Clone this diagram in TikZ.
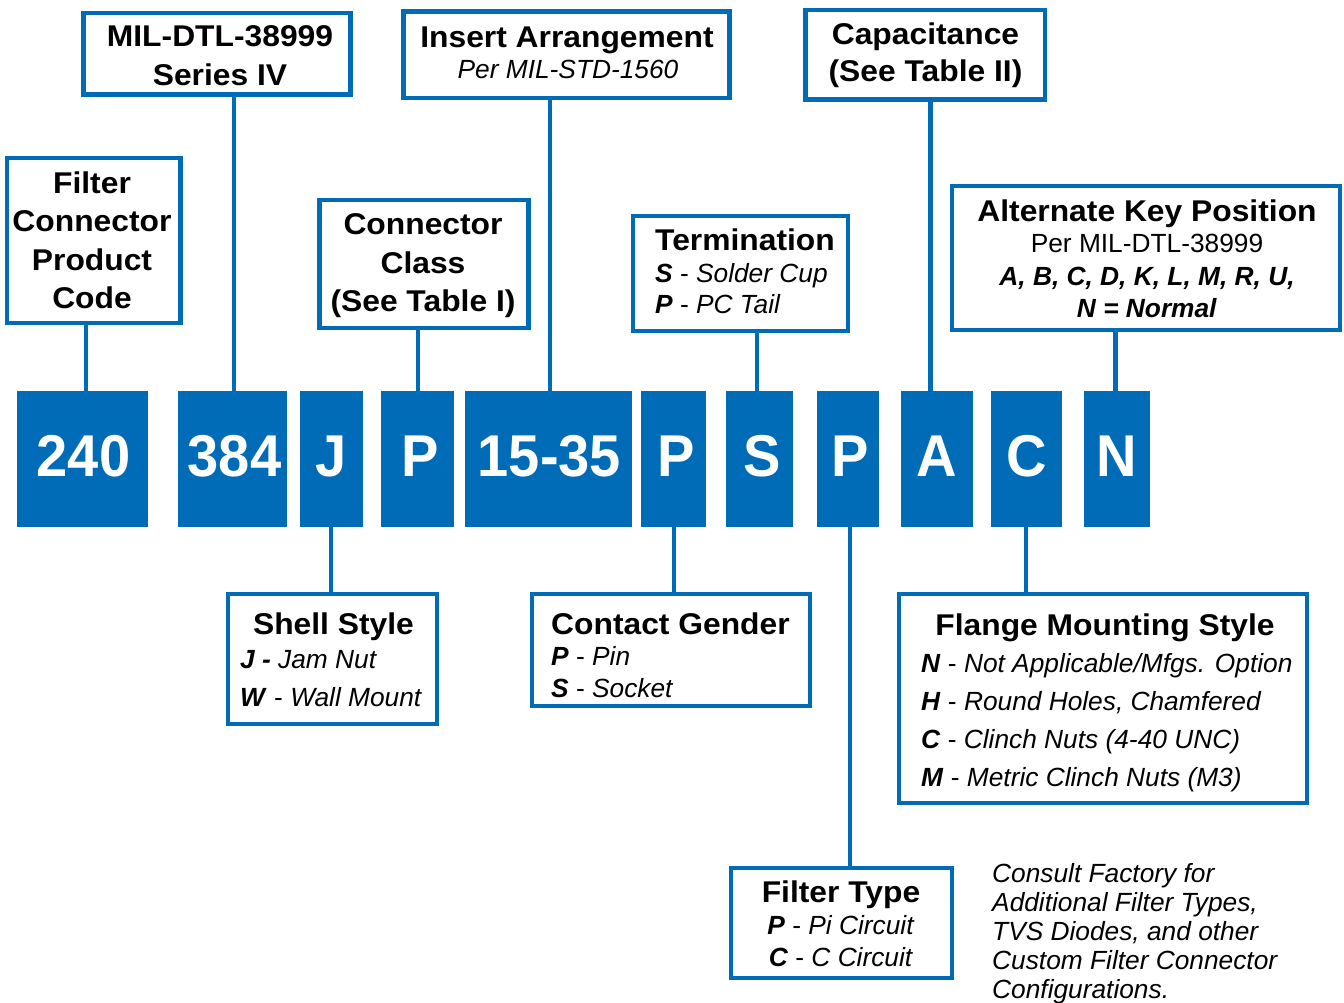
\documentclass[tikz,border=0pt]{standalone}
\usepackage{fontspec}
\setmainfont{Liberation Sans}
\newfontfamily\ttlfont[FakeStretch=1.06]{Liberation Sans}
\newfontfamily\cdfont[FakeStretch=0.95]{Liberation Sans}
\definecolor{brand}{RGB}{0,107,182}
\tikzset{
 frame/.style={draw=brand, line width=4.5pt, fill=white, inner sep=0pt, outer sep=0pt},
 codebox/.style={fill=brand, inner sep=0pt, outer sep=0pt, minimum height=136.3pt},
 codetxt/.style={text=white, font=\cdfont\bfseries\fontsize{59}{60}\selectfont, anchor=base, inner sep=0pt},
 ttl/.style={font=\ttlfont\bfseries\fontsize{30}{36}\selectfont, anchor=base, inner sep=0pt},
 ttlL/.style={ttl, anchor=base west},
 sub/.style={font=\fontsize{26.3}{30}\selectfont, anchor=base, inner sep=0pt},
 subL/.style={sub, anchor=base west},
 link/.style={draw=brand, line width=4.5pt},
}
\newcommand{\bi}[1]{\textbf{\textit{#1}}}
\begin{document}
\begin{tikzpicture}[x=1pt,y=-1pt]
\useasboundingbox[fill=white] (0,0) rectangle (1344,1003);

% ---------- code boxes ----------
\node[codebox, minimum width=130.6pt] (c240) at (82.7,458.85) {};
\node[codebox, minimum width=108.9pt] (c384) at (232.15,458.85) {};
\node[codebox, minimum width=62.5pt]  (cJ)   at (331.25,458.85) {};
\node[codebox, minimum width=73pt]    (cP1)  at (417.5,458.85) {};
\node[codebox, minimum width=167pt]   (cIA)  at (548.2,458.85) {};
\node[codebox, minimum width=64.4pt]  (cP2)  at (673.6,458.85) {};
\node[codebox, minimum width=66.8pt]  (cS)   at (759.8,458.85) {};
\node[codebox, minimum width=61.6pt]  (cP3)  at (847.8,458.85) {};
\node[codebox, minimum width=71.6pt]  (cA)   at (936.8,458.85) {};
\node[codebox, minimum width=70.3pt]  (cC)   at (1026.35,458.85) {};
\node[codebox, minimum width=66.1pt]  (cN)   at (1116.55,458.85) {};

\node[codetxt] (t240) at (83.5,476) {240};
\node[codetxt] (t384) at (234.5,476) {384};
\node[codetxt] (tJ)   at (331.25,476) {J};
\node[codetxt] (tP1)  at (420,476) {P};
\node[codetxt] (tIA)  at (549.5,476) {15-35};
\node[codetxt] (tP2)  at (676,476) {P};
\node[codetxt] (tS)   at (762,476) {S};
\node[codetxt] (tP3)  at (850,476) {P};
\node[codetxt] (tA)   at (936.8,476) {A};
\node[codetxt] (tC)   at (1026.35,476) {C};
\node[codetxt] (tN)   at (1117,476) {N};

% ---------- frames ----------
\node[frame, minimum width=173.5pt, minimum height=165pt]  (fcpc)   at (93.75,240.5) {};
\node[frame, minimum width=267pt,   minimum height=81.5pt] (mil)    at (217,53.75) {};
\node[frame, minimum width=326pt,   minimum height=86.7pt] (ins)    at (566.5,54.65) {};
\node[frame, minimum width=208.6pt, minimum height=128pt]  (cls)    at (424,264) {};
\node[frame, minimum width=215pt,   minimum height=115pt]  (term)   at (740.5,273.5) {};
\node[frame, minimum width=239.5pt, minimum height=89.5pt] (cap)    at (925.25,54.75) {};
\node[frame, minimum width=388pt,   minimum height=144pt]  (alt)    at (1146,258) {};
\node[frame, minimum width=209pt,   minimum height=130pt]  (shell)  at (332.5,659) {};
\node[frame, minimum width=278pt,   minimum height=112pt]  (gender) at (671,650) {};
\node[frame, minimum width=408pt,   minimum height=209pt]  (flange) at (1103,698.5) {};
\node[frame, minimum width=221pt,   minimum height=110pt]  (ftype)  at (841.5,923) {};

% ---------- connectors ----------
\coordinate (x1) at (86,0);
\coordinate (x2) at (234,0);
\coordinate (x3) at (418,0);
\coordinate (x4) at (549.8,0);
\coordinate (x5) at (757,0);
\coordinate (x6) at (930.5,0);
\coordinate (x7) at (1115.5,0);
\coordinate (x8) at (331,0);
\coordinate (x9) at (674,0);
\coordinate (x10) at (850,0);
\coordinate (x11) at (1026,0);
\draw[link] (fcpc.south -| x1) -- (c240.north -| x1);
\draw[link] (mil.south -| x2) -- (c384.north -| x2);
\draw[link] (cls.south -| x3) -- (cP1.north -| x3);
\draw[link] (ins.south -| x4) -- (cIA.north -| x4);
\draw[link] (term.south -| x5) -- (cS.north -| x5);
\draw[link] (cap.south -| x6) -- (cA.north -| x6);
\draw[link] (alt.south -| x7) -- (cN.north -| x7);
\draw[link] (cJ.south -| x8) -- (shell.north -| x8);
\draw[link] (cP2.south -| x9) -- (gender.north -| x9);
\draw[link] (cP3.south -| x10) -- (ftype.north -| x10);
\draw[link] (cC.south -| x11) -- (flange.north -| x11);

% ---------- texts ----------
\node[ttl] (fc1) at (92,194) {Filter};
\node[ttl] (fc2) at (92,232) {Connector};
\node[ttl] (fc3) at (92,270) {Product};
\node[ttl] (fc4) at (92,308) {Code};

\node[ttl] (mi1) at (220,47) {MIL-DTL-38999};
\node[ttl] (mi2) at (220,86) {Series IV};

\node[ttl] (in1) at (567,48) {Insert Arrangement};
\node[sub] (in2) at (568,79) {\itshape Per MIL-STD-1560};

\node[ttl] (cl1) at (423,235) {Connector};
\node[ttl] (cl2) at (423,273) {Class};
\node[ttl] (cl3) at (423,311) {(See Table I)};

\node[ttlL] (te1) at (655,251) {Termination};
\node[subL] (te2) at (655,282) {\bi{S} - \textit{Solder Cup}};
\node[subL] (te3) at (655,313) {\bi{P} - \textit{PC Tail}};

\node[ttl] (ca1) at (925.5,45) {Capacitance};
\node[ttl] (ca2) at (925.5,82) {(See Table II)};

\node[ttl] (al1) at (1147,222) {Alternate Key Position};
\node[sub] (al2) at (1147,253) {Per MIL-DTL-38999};
\node[sub] (al3) at (1147,285) {\bi{A, B, C, D, K, L, M, R, U,}};
\node[sub] (al4) at (1147,317) {\bi{N = Normal}};

\node[ttl] (sh1) at (333.5,634) {Shell Style};
\node[subL] (sh2) at (240,668) {\bi{J -} \textit{Jam Nut}};
\node[subL] (sh3) at (240,706) {\bi{W} - \textit{Wall Mount}};

\node[ttlL] (cg1) at (551,634) {Contact Gender};
\node[subL] (cg2) at (551,665) {\bi{P} - \textit{Pin}};
\node[subL] (cg3) at (551,697) {\bi{S} - \textit{Socket}};

\node[ttl] (fl1) at (1105,635) {Flange Mounting Style};
\node[subL] (fl2) at (921,672) {\bi{N} - \textit{Not Applicable/Mfgs. Option}};
\node[subL] (fl3) at (921,710) {\bi{H} - \textit{Round Holes, Chamfered}};
\node[subL] (fl4) at (921,748) {\bi{C} - \textit{Clinch Nuts (4-40 UNC)}};
\node[subL] (fl5) at (921,786) {\bi{M} - \textit{Metric Clinch Nuts (M3)}};

\node[ttl] (ft1) at (841,902) {Filter Type};
\node[sub] (ft2) at (841,934) {\bi{P} - \textit{Pi Circuit}};
\node[sub] (ft3) at (841,966) {\bi{C} - \textit{C Circuit}};

\node[subL] (co1) at (992,882) {\itshape Consult Factory for};
\node[subL] (co2) at (992,911) {\itshape Additional Filter Types,};
\node[subL] (co3) at (992,940) {\itshape TVS Diodes, and other};
\node[subL] (co4) at (992,969) {\itshape Custom Filter Connector};
\node[subL] (co5) at (992,998) {\itshape Configurations.};
\end{tikzpicture}
\end{document}
